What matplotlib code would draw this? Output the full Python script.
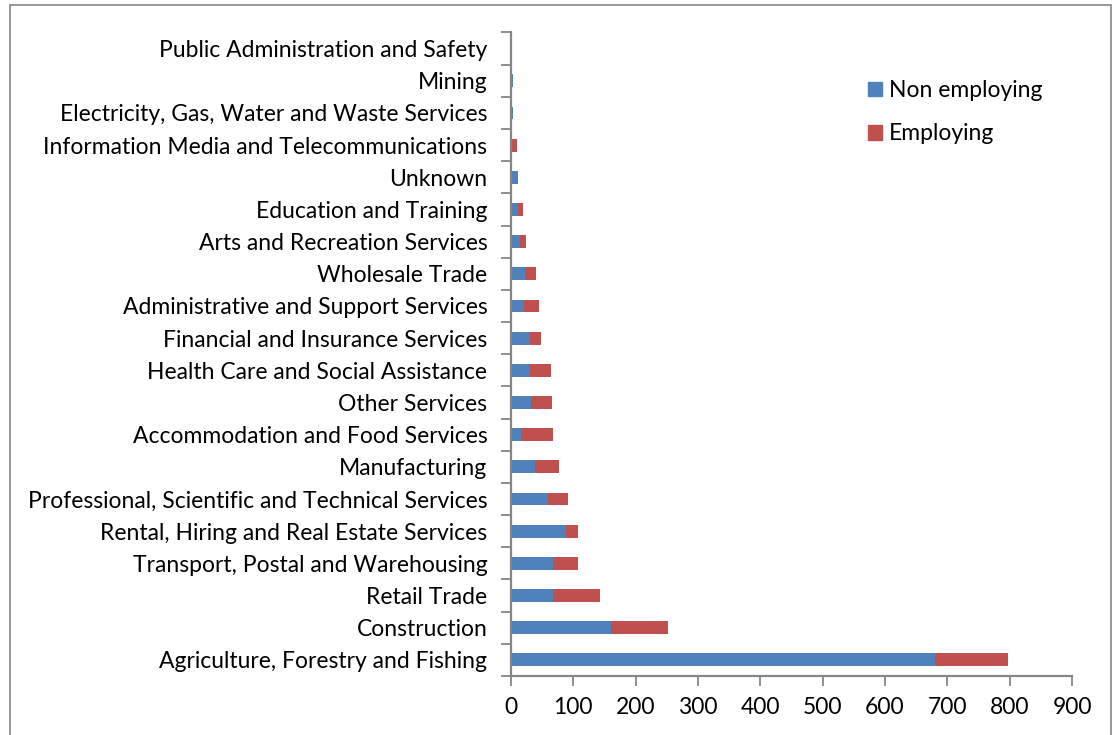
import matplotlib
matplotlib.use("Agg")
import matplotlib.pyplot as plt
from matplotlib.patches import Patch, Rectangle

plt.rcParams['font.family'] = ['Lato', 'DejaVu Sans']

categories = [
    "Agriculture, Forestry and Fishing",
    "Construction",
    "Retail Trade",
    "Transport, Postal and Warehousing",
    "Rental, Hiring and Real Estate Services",
    "Professional, Scientific and Technical Services",
    "Manufacturing",
    "Accommodation and Food Services",
    "Other Services",
    "Health Care and Social Assistance",
    "Financial and Insurance Services",
    "Administrative and Support Services",
    "Wholesale Trade",
    "Arts and Recreation Services",
    "Education and Training",
    "Unknown",
    "Information Media and Telecommunications",
    "Electricity, Gas, Water and Waste Services",
    "Mining",
    "Public Administration and Safety",
]
non_employing = [680, 160, 67, 67, 88, 59, 39, 16, 32, 30, 30, 21, 23, 14, 11, 12, 0, 3, 3, 0]
employing = [118, 92, 76, 40, 20, 33, 38, 51, 34, 34, 18, 24, 17, 10, 8, 0, 10, 0, 0, 0]
x_ticks = [0, 100, 200, 300, 400, 500, 600, 700, 800, 900]

W, H = 1112, 735
FS = 16.5
fig = plt.figure(figsize=(W / 100, H / 100), dpi=100)
ax = fig.add_axes([511 / W, 1 - 676 / H, 561 / W, (676 - 32.5) / H])

blue = "#4F81BD"
red = "#C0504D"
axis_color = "#868686"

y = list(range(len(categories)))
ax.barh(y, non_employing, height=0.4, color=blue, label="Non employing", zorder=2)
ax.barh(y, employing, left=non_employing, height=0.4, color=red, label="Employing", zorder=2)

ax.set_xlim(0, 900)
ax.set_ylim(-0.5, len(categories) - 0.5)

ax.set_xticks(x_ticks)
ax.set_xticklabels([str(v) for v in x_ticks])
ax.set_yticks(y)
ax.set_yticklabels(categories)
ax.set_yticks([i - 0.5 for i in range(len(categories) + 1)], minor=True)

ax.tick_params(axis='y', which='major', length=0, pad=17, labelsize=FS)
ax.tick_params(axis='y', which='minor', length=7, width=1.3, color=axis_color, direction='out')
ax.tick_params(axis='x', which='major', length=7, width=1.3, color=axis_color, direction='out', pad=8, labelsize=FS)

for s in ['top', 'right']:
    ax.spines[s].set_visible(False)
for s in ['left', 'bottom']:
    ax.spines[s].set_color(axis_color)
    ax.spines[s].set_linewidth(1.6)
    ax.spines[s].set_zorder(3)

handles = [Patch(color=blue), Patch(color=red)]
fig.legend(handles, ["Non employing", "Employing"], loc='upper left',
           bbox_to_anchor=(868 / W, 1 - 80 / H), frameon=False, fontsize=FS,
           handlelength=0.6, handleheight=0.6, handletextpad=0.3,
           labelspacing=0.98, borderpad=0, borderaxespad=0)

frame = Rectangle((9.5 / W, -0.1), (1110.5 - 9.5) / W, 1.1 - 5 / H,
                  transform=fig.transFigure, fill=False, edgecolor=axis_color,
                  linewidth=1.2, clip_on=False)
fig.patches.append(frame)

fig.savefig("out.png", dpi=100)
